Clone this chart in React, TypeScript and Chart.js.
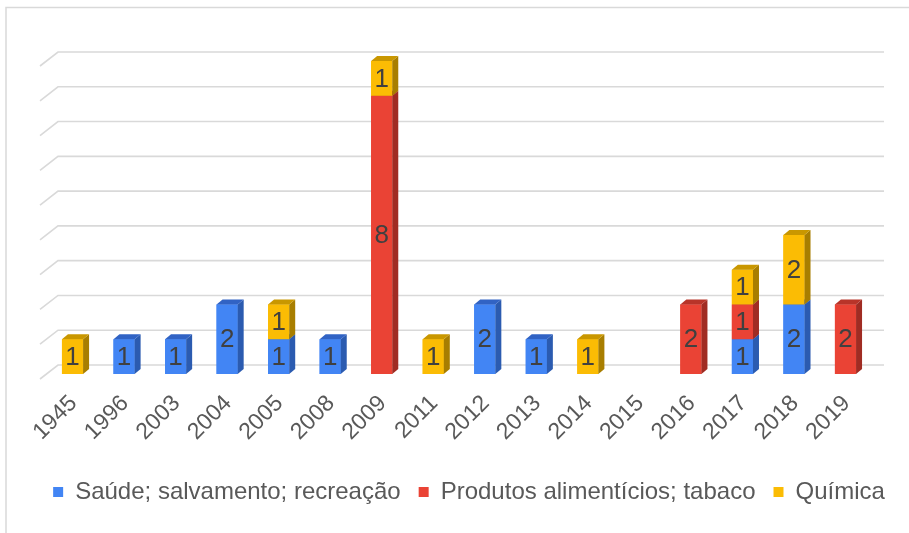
import React, { useEffect, useRef } from "react";
import { Chart, registerables } from "chart.js";

Chart.register(...registerables);

const categories = ["1945", "1996", "2003", "2004", "2005", "2008", "2009", "2011", "2012", "2013", "2014", "2015", "2016", "2017", "2018", "2019"];
const saude = [0, 1, 1, 2, 1, 1, 0, 0, 2, 1, 0, 0, 0, 1, 2, 0];
const produtos = [0, 0, 0, 0, 0, 0, 8, 0, 0, 0, 0, 0, 2, 1, 0, 2];
const quimica = [1, 0, 0, 0, 1, 0, 1, 1, 0, 0, 1, 0, 0, 1, 2, 0];
const seriesNames = ["Saúde; salvamento; recreação", "Produtos alimentícios; tabaco", "Química"];
const gridValues = [0, 1, 2, 3, 4, 5, 6, 7, 8, 9];

const frontColors = ["#4285F4", "#EA4335", "#FBBC04"];
const sideColors = ["#2B5BB0", "#A02C23", "#A87E00"];
const topColors = ["#3163C4", "#B83429", "#C99700"];

const FONT = "'Liberation Sans', Arial, sans-serif";

const threeD = {
  id: "threeD",
  beforeDatasetsDraw(chart: any) {
    const ctx = chart.ctx;
    const y = chart.scales.y;
    ctx.save();
    ctx.strokeStyle = "#d9d9d9";
    ctx.lineWidth = 1.5;
    ctx.beginPath();
    ctx.moveTo(6, 540);
    ctx.lineTo(6, 7.5);
    ctx.lineTo(915, 7.5);
    ctx.stroke();
    ctx.lineWidth = 1.6;
    gridValues.forEach((v) => {
      const py = y.getPixelForValue(v);
      ctx.beginPath();
      ctx.moveTo(40, py + 5);
      ctx.lineTo(58, py - 9);
      ctx.lineTo(884, py - 9);
      ctx.stroke();
    });
    ctx.restore();
  },
  afterDatasetsDraw(chart: any) {
    const ctx = chart.ctx;
    const dx = 6;
    const dy = 5;
    ctx.save();
    const n = chart.data.labels.length;
    for (let i = 0; i < n; i++) {
      chart.data.datasets.forEach((ds: any, d: number) => {
        const v = ds.data[i];
        if (!v) return;
        const el = chart.getDatasetMeta(d).data[i];
        const { x, y, base, width } = el.getProps(["x", "y", "base", "width"], true);
        const l = x - width / 2;
        const r = x + width / 2;
        const t = Math.min(y, base);
        const b = Math.max(y, base);
        ctx.fillStyle = frontColors[d];
        ctx.fillRect(l, t, r - l, b - t);
        ctx.fillStyle = sideColors[d];
        ctx.beginPath();
        ctx.moveTo(r, t);
        ctx.lineTo(r + dx, t - dy);
        ctx.lineTo(r + dx, b - dy);
        ctx.lineTo(r, b);
        ctx.closePath();
        ctx.fill();
        ctx.fillStyle = topColors[d];
        ctx.beginPath();
        ctx.moveTo(l, t);
        ctx.lineTo(l + dx, t - dy);
        ctx.lineTo(r + dx, t - dy);
        ctx.lineTo(r, t);
        ctx.closePath();
        ctx.fill();
        ctx.fillStyle = "#404040";
        ctx.font = `26px ${FONT}`;
        ctx.textAlign = "center";
        ctx.textBaseline = "middle";
        ctx.fillText(String(v), x, (t + b) / 2 + 1);
      });
    }
    ctx.restore();
  },
};

export default function App() {
  const ref = useRef<HTMLCanvasElement | null>(null);
  useEffect(() => {
    if (!ref.current) return;
    const chart = new Chart(ref.current, {
      type: "bar",
      data: {
        labels: categories,
        datasets: [
          { label: seriesNames[0], data: saude, backgroundColor: frontColors[0] },
          { label: seriesNames[1], data: produtos, backgroundColor: frontColors[1] },
          { label: seriesNames[2], data: quimica, backgroundColor: frontColors[2] },
        ],
      },
      options: {
        animation: false,
        responsive: false,
        layout: { padding: { left: 29, right: 0, top: 61, bottom: 19 } },
        datasets: { bar: { barPercentage: 0.41, categoryPercentage: 1 } },
        scales: {
          x: {
            stacked: true,
            grid: { display: false },
            border: { display: false },
            ticks: {
              color: "#595959",
              font: { family: FONT, size: 23 },
              maxRotation: 45,
              minRotation: 45,
              padding: 8,
              labelOffset: 1,
              autoSkip: false,
            },
            afterFit: (s: any) => {
              s.height = 88;
            },
          },
          y: {
            stacked: true,
            position: "left",
            min: 0,
            max: 9,
            grid: { display: false },
            border: { display: false },
            ticks: { display: false },
            afterFit: (s: any) => {
              s.width = 17.75;
            },
          },
          yr: {
            position: "right",
            min: 0,
            max: 9,
            grid: { display: false },
            border: { display: false },
            ticks: { display: false },
            afterFit: (s: any) => {
              s.width = 37.75;
            },
          },
        },
        plugins: {
          tooltip: { enabled: false },
          legend: {
            position: "bottom",
            labels: {
              boxWidth: 10,
              boxHeight: 10,
              color: "#595959",
              font: { family: FONT, size: 24 },
              padding: 18,
            },
          },
        },
      },
      plugins: [threeD],
    });
    return () => chart.destroy();
  }, []);
  return (
    <div style={{ position: "fixed", left: 0, top: 0, width: 909, height: 533, background: "#fff" }}>
      <canvas ref={ref} width={909} height={533} />
    </div>
  );
}
